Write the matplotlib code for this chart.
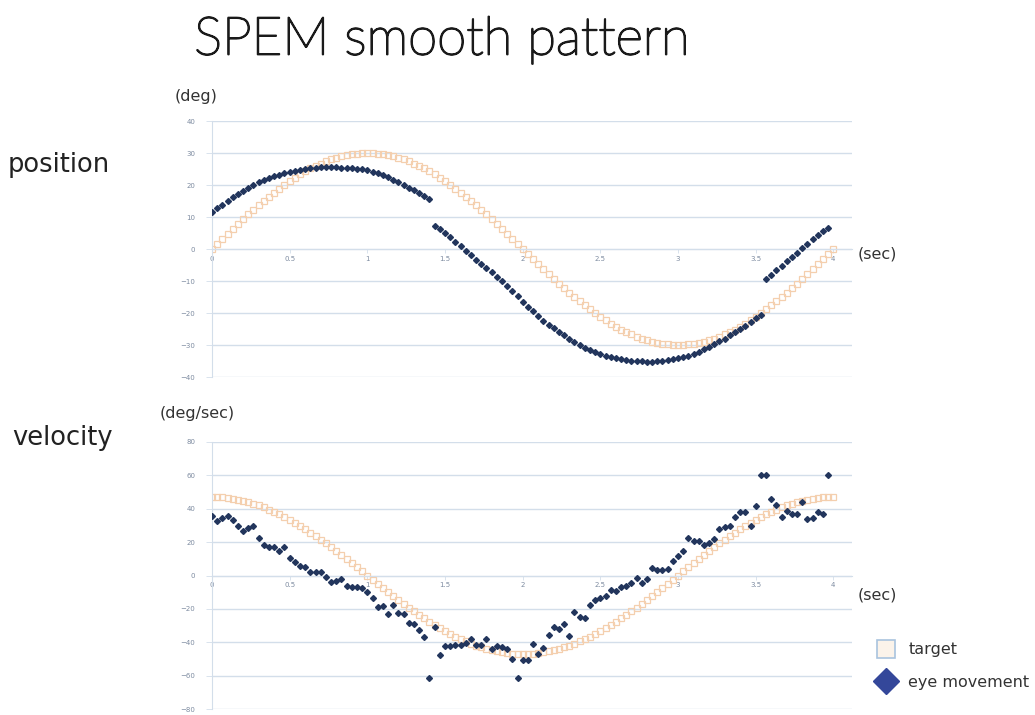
import matplotlib.pyplot as plt
import matplotlib.patheffects as pe
from matplotlib.lines import Line2D
import numpy as np

# sampling: 30 Hz, 0..4 sec
fs = 30
t_eye = np.arange(120) / fs
t_target = np.arange(121) / fs

# position (deg)
target_pos = [
    0.0, 1.6, 3.1, 4.7, 6.2, 7.8, 9.3, 10.8, 12.2, 13.6,
    15.0, 16.3, 17.6, 18.9, 20.1, 21.2, 22.3, 23.3, 24.3, 25.2,
    26.0, 26.7, 27.4, 28.0, 28.5, 29.0, 29.3, 29.6, 29.8, 30.0,
    30.0, 30.0, 29.8, 29.6, 29.3, 29.0, 28.5, 28.0, 27.4, 26.7,
    26.0, 25.2, 24.3, 23.3, 22.3, 21.2, 20.1, 18.9, 17.6, 16.3,
    15.0, 13.6, 12.2, 10.8, 9.3, 7.8, 6.2, 4.7, 3.1, 1.6,
    0.0, -1.6, -3.1, -4.7, -6.2, -7.8, -9.3, -10.8, -12.2, -13.6,
    -15.0, -16.3, -17.6, -18.9, -20.1, -21.2, -22.3, -23.3, -24.3, -25.2,
    -26.0, -26.7, -27.4, -28.0, -28.5, -29.0, -29.3, -29.6, -29.8, -30.0,
    -30.0, -30.0, -29.8, -29.6, -29.3, -29.0, -28.5, -28.0, -27.4, -26.7,
    -26.0, -25.2, -24.3, -23.3, -22.3, -21.2, -20.1, -18.9, -17.6, -16.3,
    -15.0, -13.6, -12.2, -10.8, -9.3, -7.8, -6.2, -4.7, -3.1, -1.6,
    0.0,
]
eye_pos = [
    11.6, 12.8, 13.9, 15.0, 16.1, 17.1, 18.1, 19.0, 19.9, 20.8,
    21.5, 22.1, 22.7, 23.2, 23.7, 24.1, 24.5, 24.8, 25.1, 25.3,
    25.4, 25.5, 25.5, 25.5, 25.5, 25.4, 25.3, 25.2, 25.1, 24.9,
    24.6, 24.2, 23.7, 23.1, 22.4, 21.7, 20.9, 20.1, 19.2, 18.3,
    17.4, 16.5, 15.6, 7.3, 6.3, 5.0, 3.6, 2.2, 0.8, -0.6,
    -2.0, -3.3, -4.6, -6.0, -7.3, -8.7, -10.1, -11.5, -13.0, -14.8,
    -16.5, -18.1, -19.5, -21.0, -22.4, -23.6, -24.7, -25.8, -26.9, -28.0,
    -29.0, -29.9, -30.8, -31.6, -32.3, -32.9, -33.4, -33.8, -34.2, -34.5,
    -34.7, -34.9, -35.0, -35.1, -35.2, -35.2, -35.1, -35.0, -34.8, -34.5,
    -34.2, -33.8, -33.3, -32.7, -32.1, -31.4, -30.6, -29.8, -28.9, -28.0,
    -27.0, -26.0, -25.0, -24.0, -22.8, -21.6, -20.6, -9.5, -8.1, -6.7,
    -5.3, -3.9, -2.5, -1.1, 0.3, 1.7, 3.0, 4.3, 5.5, 6.6,
]

# velocity (deg/sec)
target_vel = [
    47.1, 47.0, 46.8, 46.5, 46.1, 45.5, 44.8, 44.0, 43.0, 42.0,
    40.8, 39.5, 38.1, 36.6, 35.0, 33.3, 31.5, 29.6, 27.7, 25.7,
    23.6, 21.4, 19.2, 16.9, 14.6, 12.2, 9.8, 7.4, 4.9, 2.5,
    0.0, -2.5, -4.9, -7.4, -9.8, -12.2, -14.6, -16.9, -19.2, -21.4,
    -23.6, -25.7, -27.7, -29.6, -31.5, -33.3, -35.0, -36.6, -38.1, -39.5,
    -40.8, -42.0, -43.0, -44.0, -44.8, -45.5, -46.1, -46.5, -46.8, -47.0,
    -47.1, -47.0, -46.8, -46.5, -46.1, -45.5, -44.8, -44.0, -43.0, -42.0,
    -40.8, -39.5, -38.1, -36.6, -35.0, -33.3, -31.5, -29.6, -27.7, -25.7,
    -23.6, -21.4, -19.2, -16.9, -14.6, -12.2, -9.8, -7.4, -4.9, -2.5,
    0.0, 2.5, 4.9, 7.4, 9.8, 12.2, 14.6, 16.9, 19.2, 21.4,
    23.6, 25.7, 27.7, 29.6, 31.5, 33.3, 35.0, 36.6, 38.1, 39.5,
    40.8, 42.0, 43.0, 44.0, 44.8, 45.5, 46.1, 46.5, 46.8, 47.0,
    47.1,
]
eye_vel = [
    35.8, 32.7, 34.3, 35.4, 33.3, 29.7, 26.6, 28.6, 29.7, 22.7,
    18.3, 17.2, 17.2, 14.8, 16.8, 10.7, 8.1, 5.7, 5.1, 2.0,
    2.0, 2.0, -1.0, -3.6, -3.0, -2.0, -6.1, -6.7, -7.1, -7.5,
    -10.1, -13.5, -18.8, -18.2, -23.2, -17.8, -22.2, -22.8, -28.3, -28.9,
    -32.9, -36.8, -61.6, -30.9, -47.4, -42.0, -42.0, -41.8, -41.4, -40.4,
    -37.8, -41.8, -41.8, -38.0, -44.0, -42.0, -42.9, -43.9, -50.0, -61.6,
    -50.5, -50.5, -41.0, -47.0, -43.4, -35.8, -30.7, -31.9, -28.9, -36.4,
    -21.6, -24.8, -25.6, -17.8, -14.8, -13.5, -12.1, -8.7, -9.5, -6.7,
    -6.1, -4.6, -1.4, -4.6, -2.0, 4.6, 3.4, 3.4, 4.0, 8.7,
    11.5, 14.7, 22.6, 20.6, 20.8, 18.2, 19.2, 21.6, 27.9, 29.3,
    29.9, 35.0, 38.0, 38.0, 29.7, 41.8, 60.0, 60.0, 45.9, 42.0,
    35.3, 38.4, 36.8, 36.8, 44.0, 33.7, 34.3, 38.0, 36.8, 60.0,
]

xticks = [0, 0.5, 1, 1.5, 2, 2.5, 3, 3.5, 4]
xticklabels = ["0", "0.5", "1", "1.5", "2", "2.5", "3", "3.5", "4"]

target_color = "#f4cfae"
eye_color = "#22355c"
grid_color = "#d3deea"
tick_color = "#7d8ba0"

W, H = 1035, 715
fig = plt.figure(figsize=(W / 100, H / 100), dpi=100)


def style(ax, ylim, ystep):
    ax.set_xlim(0, 4.12)
    ax.set_ylim(*ylim)
    yt = np.arange(ylim[0], ylim[1] + 1, ystep)
    ax.set_yticks(yt)
    ax.set_xticks(xticks)
    ax.set_xticklabels(xticklabels)
    for y in yt:
        ax.axhline(y, color=grid_color, lw=1.0, zorder=0)
    for s in ["top", "right"]:
        ax.spines[s].set_visible(False)
    ax.spines["bottom"].set_position(("data", 0))
    ax.spines["bottom"].set_color(grid_color)
    ax.spines["left"].set_color(grid_color)
    ax.tick_params(axis="x", length=3, width=0.6, color=grid_color,
                   labelsize=5, labelcolor=tick_color, pad=2)
    ax.tick_params(axis="y", length=4, width=0.6, color=grid_color,
                   labelsize=5, labelcolor=tick_color, pad=8)
    ax.patch.set_alpha(0)


# position panel
ax1 = fig.add_axes([212 / W, 1 - 377 / H, 640 / W, 256 / H])
style(ax1, (-40, 40), 10)
ax1.plot(t_target, target_pos, ls="none", marker="s", ms=4.5, mfc="none",
         mec=target_color, mew=0.9, zorder=2)
ax1.plot(t_eye, eye_pos, ls="none", marker="D", ms=3.0, color=eye_color, zorder=3)

# velocity panel
ax2 = fig.add_axes([212 / W, 1 - 709 / H, 640 / W, 267 / H])
style(ax2, (-80, 80), 20)
ax2.plot(t_target, target_vel, ls="none", marker="s", ms=4.5, mfc="none",
         mec=target_color, mew=0.9, zorder=2)
ax2.plot(t_eye, eye_vel, ls="none", marker="D", ms=3.0, color=eye_color, zorder=3)

# texts
fig.text(442 / W, 1 - 40 / H, "SPEM smooth pattern", ha="center", va="center",
         fontsize=38, family="Lato", fontweight="light", color="#1a1a1a",
         path_effects=[pe.withStroke(linewidth=1.3, foreground="#1a1a1a")])
fig.text(8 / W, 1 - 165 / H, "position", ha="left", va="center",
         fontsize=18.5, color="#222222")
fig.text(12 / W, 1 - 438 / H, "velocity", ha="left", va="center",
         fontsize=18.5, color="#222222")
unit_kw = dict(fontsize=11.5, color="#333333", va="center")
fig.text(175 / W, 1 - 97 / H, "(deg)", **unit_kw)
fig.text(160 / W, 1 - 413 / H, "(deg/sec)", **unit_kw)
fig.text(858 / W, 1 - 254 / H, "(sec)", **unit_kw)
fig.text(858 / W, 1 - 595 / H, "(sec)", **unit_kw)

handles = [
    Line2D([], [], ls="none", marker="s", ms=13, mfc="#fbf3ea", mec="#a9c3de", mew=1.2),
    Line2D([], [], ls="none", marker="D", ms=13, color="#34479a"),
]
fig.legend(handles, ["target", "eye movement"], loc="upper left",
           bbox_to_anchor=(862 / W, 1 - 628 / H), frameon=False, fontsize=11.5,
           handlelength=1.2, handletextpad=0.8, labelspacing=1.1,
           labelcolor="#333333")

fig.savefig("out.png", dpi=100)
